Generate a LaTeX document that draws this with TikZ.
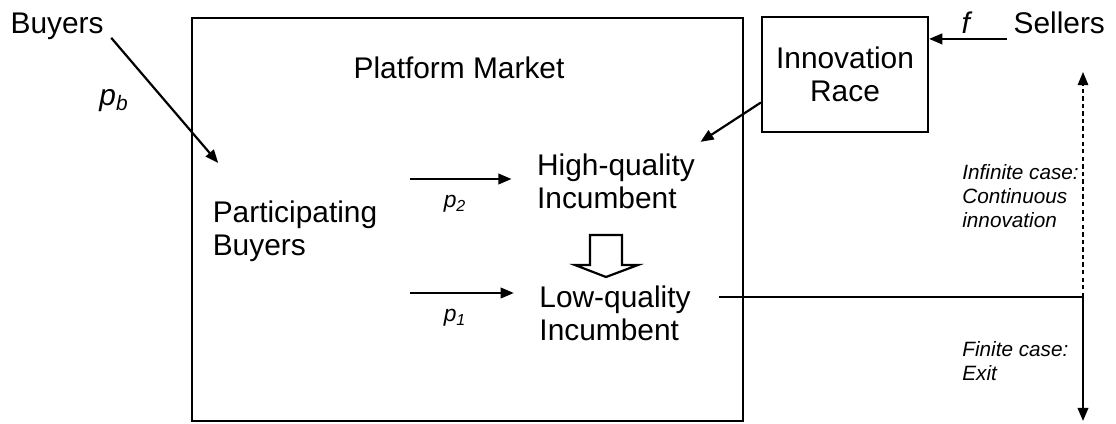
\documentclass[tikz,border=0pt]{standalone}
\usepackage{fontspec}
\setmainfont{Liberation Sans}
\usetikzlibrary{arrows.meta, calc}

\newcommand{\bigtext}{\fontsize{17}{18.8}\selectfont}
\newcommand{\smalltext}{\fontsize{11.8}{13.6}\selectfont\itshape}
\newcommand{\pricetext}{\fontsize{13}{15}\selectfont}
\newcommand{\price}[2]{\textit{#1}\textsubscript{\textit{#2}}}

\begin{document}
\begin{tikzpicture}[x=0.02cm, y=-0.02cm,
  box/.style={draw, line width=1.25pt},
  lbl/.style={font=\bigtext, align=center, inner sep=3pt},
  note/.style={font=\smalltext, align=left, inner sep=0pt, anchor=west},
  arr/.style={line width=1.25pt, -{Triangle[length=7.5pt,width=6pt]}}]

  \useasboundingbox (0,0) rectangle (1116,423);

  % --- Platform market ---
  \draw[box] (192,18) rectangle (743,421);
  \node[lbl, anchor=base] (title) at (459,78) {Platform Market};

  \node[lbl, align=left] (partic) at (295,231) {Participating\\Buyers};
  \node[lbl, align=left] (high) at (616,181) {High-quality\\Incumbent};
  \node[lbl, align=left] (low) at (615,313) {Low-quality\\Incumbent};

  % prices paid by the buyers
  \coordinate (p2tail) at (410,179);
  \coordinate (p1tail) at (410,293);
  \draw[arr] (p2tail) -- ($(p2tail -| high.west)+(-20,0)$);
  \draw[arr] (p1tail) -- ($(p1tail -| low.west)+(-20,0)$);
  \node[font=\pricetext] (p2) at (455,204) {\price{p}{2}};
  \node[font=\pricetext] (p1) at (455,318) {\price{p}{1}};

  % hollow arrow: high quality falls back to low quality
  \draw[line width=1.25pt] (590,235) -- (622,235) -- (622,265) -- (638,265)
    -- (606,277) -- (575,265) -- (590,265) -- cycle;

  % --- Buyers outside ---
  \node[lbl, anchor=base west] (buyers) at (5,33) {Buyers};
  \node[lbl] (pb) at (114,101) {\price{p}{b}};
  \draw[arr] ($(buyers.south east)+(2,-7)$) -- ($(partic.north west)+(11,-32)$);

  % --- Innovation race and sellers ---
  \node[box, lbl, minimum width=3.32cm, minimum height=2.3cm] (innov) at (845,74.5) {Innovation\\Race};
  \node[lbl, anchor=base west] (sellers) at (1008,33) {Sellers};
  \node[lbl, anchor=base] (f) at (967,33) {\textit{f}};
  \coordinate (selarr) at ($(sellers.south west)+(-1,0)$);
  \draw[arr] (selarr) -- (selarr -| innov.east);
  \draw[arr] ($(innov.west)+(0,28)$) -- ($(high.north east)+(0,-6)$);

  % --- Two cases ---
  \coordinate (junc) at (1083,297);
  \coordinate (inftop) at (1083,72);
  \coordinate (exitend) at (1083,421);
  \draw[line width=1.25pt] ($(low.east |- junc)+(23,0)$) -- (junc);
  \draw[arr, line width=0.8pt, dash pattern=on 2.5pt off 1.8pt] (junc) -- (inftop);
  \draw[arr] (junc) -- (exitend);

  \node[note] (infinite) at (962,196) {Infinite case:\\Continuous\\innovation};
  \node[note] (finite) at (962,361.5) {Finite case:\\Exit};
\end{tikzpicture}
\end{document}
